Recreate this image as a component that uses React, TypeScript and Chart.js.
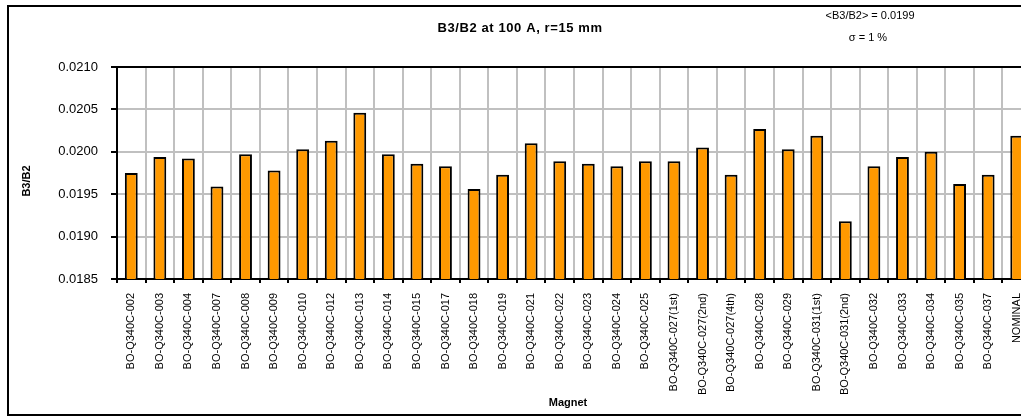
import { useEffect, useRef } from "react";
import { Chart, registerables } from "chart.js";

Chart.register(...registerables);

const magnets = [
  "BO-Q340C-002", "BO-Q340C-003", "BO-Q340C-004", "BO-Q340C-007", "BO-Q340C-008",
  "BO-Q340C-009", "BO-Q340C-010", "BO-Q340C-012", "BO-Q340C-013", "BO-Q340C-014",
  "BO-Q340C-015", "BO-Q340C-017", "BO-Q340C-018", "BO-Q340C-019", "BO-Q340C-021",
  "BO-Q340C-022", "BO-Q340C-023", "BO-Q340C-024", "BO-Q340C-025", "BO-Q340C-027(1st)",
  "BO-Q340C-027(2nd)", "BO-Q340C-027(4th)", "BO-Q340C-028", "BO-Q340C-029", "BO-Q340C-031(1st)",
  "BO-Q340C-031(2nd)", "BO-Q340C-032", "BO-Q340C-033", "BO-Q340C-034", "BO-Q340C-035",
  "BO-Q340C-037", "NOMINAL",
];

const b3b2Values = [
  0.01975, 0.01994, 0.01992, 0.01959, 0.01997,
  0.01978, 0.02003, 0.02013, 0.02046, 0.01997,
  0.01986, 0.01983, 0.01956, 0.01973, 0.02010,
  0.01989, 0.01986, 0.01983, 0.01989, 0.01989,
  0.02005, 0.01973, 0.02027, 0.02003, 0.02019,
  0.01918, 0.01983, 0.01994, 0.02000, 0.01962,
  0.01973, 0.02019,
];

const yMin = 0.0185;
const yMax = 0.021;
const yStep = 0.0005;

const chartTitle = "B3/B2 at 100 A, r=15 mm";
const meanText = "<B3/B2> = 0.0199";
const sigmaText = "\u03c3 = 1 %";
const yTitle = "B3/B2";
const xTitle = "Magnet";

const FONT = '"Liberation Sans", Arial, sans-serif';

export default function App() {
  const canvasRef = useRef<HTMLCanvasElement | null>(null);

  useEffect(() => {
    const canvas = canvasRef.current;
    if (!canvas) return;

    const textPlugin = {
      id: "texts",
      afterDraw(chart: any) {
        const ctx = chart.ctx;
        const a = chart.chartArea;
        ctx.save();
        ctx.strokeStyle = "#000";
        ctx.lineWidth = 2;
        ctx.beginPath();
        ctx.moveTo(a.left - 1, a.top);
        ctx.lineTo(a.right + 20, a.top);
        ctx.stroke();

        ctx.fillStyle = "#000";
        ctx.textAlign = "center";
        ctx.textBaseline = "middle";
        ctx.font = `bold 13px ${FONT}`;
        (ctx as any).letterSpacing = "0.6px";
        ctx.fillText(chartTitle, 511, 21);
        (ctx as any).letterSpacing = "0px";

        ctx.font = `11px ${FONT}`;
        ctx.fillText(meanText, 861, 9);
        ctx.fillText(sigmaText, 859, 31);

        ctx.font = `bold 11px ${FONT}`;
        ctx.fillText(xTitle, 559, 396);

        ctx.translate(18, 174);
        ctx.rotate(-Math.PI / 2);
        ctx.fillText(yTitle, 0, 0);
        ctx.restore();
      },
    };

    const chart = new Chart(canvas, {
      type: "bar",
      data: {
        labels: magnets,
        datasets: [
          {
            data: b3b2Values,
            backgroundColor: "#FF9900",
            borderColor: "#000000",
            borderWidth: 2,
            borderSkipped: "bottom",
            barPercentage: 0.45,
            categoryPercentage: 1,
          },
        ],
      },
      options: {
        responsive: false,
        animation: false,
        layout: { padding: { top: 60, left: 0, right: 18, bottom: 0 } },
        plugins: {
          legend: { display: false },
          title: { display: false },
          tooltip: { enabled: false },
        },
        scales: {
          x: {
            offset: true,
            grid: {
              offset: true,
              color: "#C0C0C0",
              lineWidth: 2,
              tickColor: "#000",
              tickLength: 4,
              tickWidth: 2,
            },
            border: { color: "#000", width: 2 },
            ticks: {
              autoSkip: false,
              maxRotation: 90,
              minRotation: 90,
              padding: 10,
              color: "#000",
              font: { family: FONT, size: 11 },
            },
            afterFit(scale: any) {
              scale.height = 135;
            },
          },
          y: {
            min: yMin,
            max: yMax,
            grid: {
              color: "#C0C0C0",
              lineWidth: 2,
              tickColor: "#000",
              tickLength: 6,
              tickWidth: 2,
            },
            border: { color: "#000", width: 2 },
            ticks: {
              stepSize: yStep,
              padding: 13,
              color: "#000",
              font: { family: FONT, size: 13 },
              callback: (v: any) => Number(v).toFixed(4),
            },
            afterFit(scale: any) {
              scale.width = 108;
            },
          },
        },
      },
      plugins: [textPlugin],
    });

    return () => chart.destroy();
  }, []);

  return (
    <div
      style={{
        position: "fixed",
        left: 0,
        top: 0,
        width: 1021,
        height: 418,
        overflow: "hidden",
        background: "#fff",
      }}
    >
      <div
        style={{
          position: "absolute",
          left: 7,
          top: 5,
          width: 1100,
          height: 411,
          border: "2px solid #000",
          boxSizing: "border-box",
        }}
      >
        <canvas
          ref={canvasRef}
          width={1040}
          height={407}
          style={{ position: "absolute", left: 0, top: 0, width: 1040, height: 407 }}
        />
      </div>
    </div>
  );
}
